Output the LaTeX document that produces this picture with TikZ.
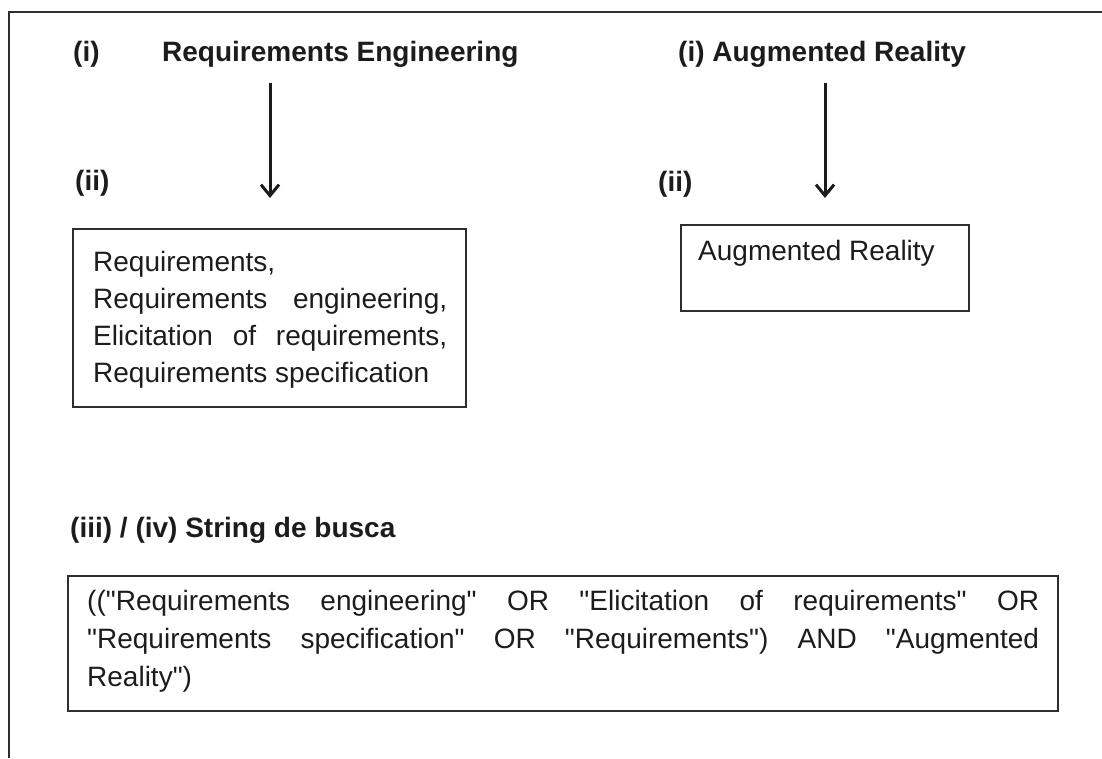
\documentclass[tikz,border=0pt]{standalone}
\usepackage{fontspec}
% plain family (no TeX ligatures) so that " stays a straight quote
\newfontfamily\arialish{Liberation Sans}
\usetikzlibrary{arrows.meta}

\definecolor{ink}{HTML}{1C1C1C}
\definecolor{rule}{HTML}{2E2E2E}

\tikzset{
  heading/.style={font=\arialish\fontsize{28}{34}\selectfont\bfseries, text=ink, inner sep=0pt, anchor=base west},
  bodytext/.style={font=\arialish\fontsize{28}{37}\selectfont, text=ink, inner sep=0pt, anchor=base west},
  panel/.style={draw=rule, line width=2pt, anchor=north west, inner sep=0pt},
  frameline/.style={draw=rule, line width=2.6pt},
  flow/.style={draw=ink, line width=3pt, -{Straight Barb[length=11pt, width=18pt, line width=3pt]}}
}

\begin{document}
\begin{tikzpicture}[x=1pt, y=-1pt]
  \useasboundingbox (0,0) rectangle (1102,758);

  % open frame: top and left edges
  \draw[frameline] (9,758) -- (9,12) -- (1102,12);

  % left column
  \node[heading] (ilabel) at (73,61) {(i)};
  \node[heading] (rehead) at (162,61) {Requirements Engineering};
  \node[heading] (iilabel) at (75,190) {(ii)};
  \coordinate (reA) at (270,83);
  \coordinate (reB) at (270,198);
  \draw[flow] (reA) -- (reB);

  \node[panel, minimum width=393pt, minimum height=178pt] (rebox) at (72,228) {};
  \node[bodytext] (relist) at (93,271) {\vtop{\baselineskip=37pt
    \hbox to 354pt{Requirements,\hfill}
    \hbox to 354pt{Requirements\hfill engineering,}
    \hbox to 354pt{Elicitation\hfill of\hfill requirements,}
    \hbox to 354pt{Requirements specification\hfill}}};

  % right column
  \node[heading] (arhead) at (678,61) {(i) Augmented Reality};
  \node[heading] (iilabelr) at (658,191) {(ii)};
  \coordinate (arA) at (825,83);
  \coordinate (arB) at (825,198);
  \draw[flow] (arA) -- (arB);

  \node[panel, minimum width=288pt, minimum height=86pt] (arbox) at (680,224) {};
  \node[bodytext] (arlist) at (698,260) {Augmented Reality};

  % search string
  \node[heading] (strhead) at (70,537) {(iii) / (iv) String de busca};
  \node[panel, minimum width=990pt, minimum height=135pt] (strbox) at (67,575) {};
  \node[bodytext] (strtext) at (87,610) {\vtop{\baselineskip=38pt
    \hbox to 952pt{(("Requirements\hfill engineering"\hfill OR\hfill "Elicitation\hfill of\hfill requirements"\hfill OR}
    \hbox to 952pt{"Requirements\hfill specification"\hfill OR\hfill "Requirements")\hfill AND\hfill "Augmented}
    \hbox to 952pt{Reality")\hfill}}};
\end{tikzpicture}
\end{document}
